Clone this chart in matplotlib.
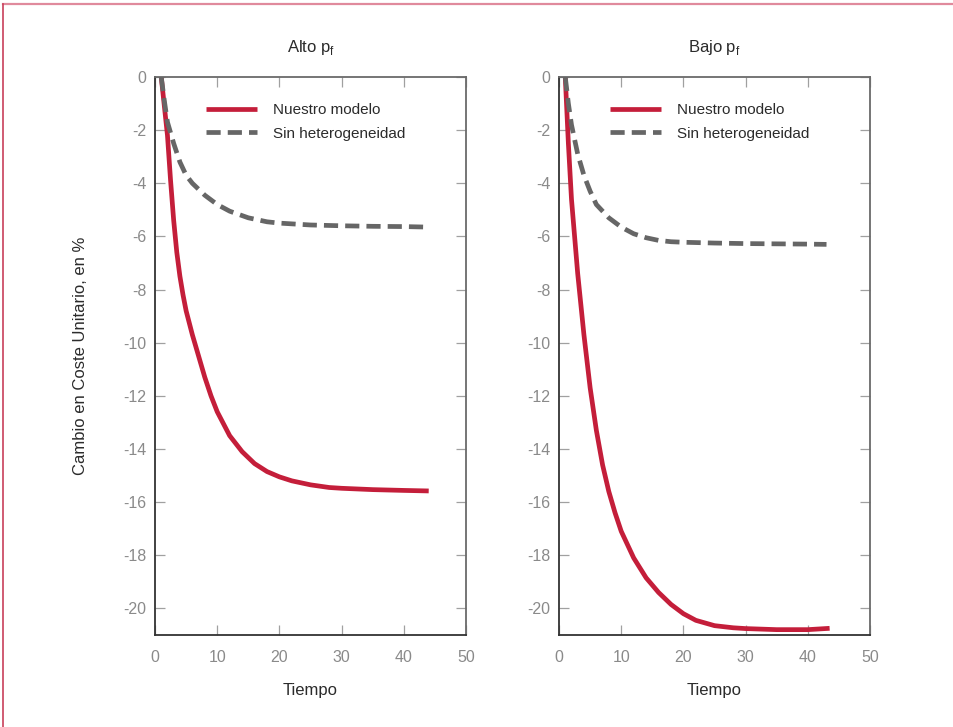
import matplotlib
matplotlib.use("Agg")
import matplotlib.pyplot as plt
from matplotlib.lines import Line2D

# -----------------------------
# Data
# -----------------------------
panel_titles = ["Alto p$_{\\mathrm{f}}$", "Bajo p$_{\\mathrm{f}}$"]
series_names = ["Nuestro modelo", "Sin heterogeneidad"]

alto_model_t = [1, 1.5, 2, 2.5, 3, 3.5, 4, 4.5, 5, 6, 7, 8, 9, 10, 12, 14, 16, 18, 20, 22, 25, 28,
                30, 35, 40, 44]
alto_model_y = [0, -1.1, -2.2, -3.9, -5.4, -6.6, -7.5, -8.2, -8.8, -9.7, -10.5, -11.3, -12.0,
                -12.6, -13.5, -14.1, -14.55, -14.85, -15.05, -15.2, -15.35, -15.45, -15.48,
                -15.53, -15.56, -15.58]
alto_homog_t = [1, 1.5, 2, 3, 4, 5, 6, 8, 10, 12, 15, 18, 20, 25, 30, 35, 40, 44]
alto_homog_y = [0, -0.9, -1.7, -2.5, -3.2, -3.7, -4.0, -4.45, -4.8, -5.05, -5.3, -5.45, -5.5,
                -5.57, -5.6, -5.62, -5.63, -5.65]

bajo_model_t = [1, 1.5, 2, 3, 4, 5, 6, 7, 8, 9, 10, 12, 14, 16, 18, 20, 22, 25, 28, 30, 35, 40,
                43.5]
bajo_model_y = [0, -2.5, -4.6, -7.4, -9.7, -11.7, -13.3, -14.6, -15.6, -16.4, -17.1, -18.1,
                -18.85, -19.4, -19.85, -20.2, -20.45, -20.65, -20.73, -20.76, -20.8, -20.8,
                -20.75]
bajo_homog_t = [1, 1.5, 2, 3, 4, 5, 6, 8, 10, 12, 14, 16, 18, 20, 25, 30, 35, 40, 43]
bajo_homog_y = [0, -1.0, -1.8, -2.9, -3.7, -4.3, -4.8, -5.3, -5.65, -5.9, -6.05, -6.15, -6.2,
                -6.22, -6.25, -6.27, -6.28, -6.29, -6.3]

x_ticks = [0, 10, 20, 30, 40, 50]
y_ticks = [0, -2, -4, -6, -8, -10, -12, -14, -16, -18, -20]

# -----------------------------
# Style
# -----------------------------
plt.rcParams['font.family'] = ['Liberation Sans', 'DejaVu Sans']
plt.rcParams['mathtext.fontset'] = 'custom'
plt.rcParams['mathtext.rm'] = 'Liberation Sans'
plt.rcParams['axes.unicode_minus'] = False

RED = "#c41e3a"
GRAY = "#666666"
TEXT = "#2b2b2b"
TICKLBL = "#8a8a8a"

fig = plt.figure(figsize=(9.54, 7.27), dpi=100)
ax_left = fig.add_axes([0.1625, 0.1266, 0.326, 0.7675])
ax_right = fig.add_axes([0.586, 0.1266, 0.326, 0.7675])

panels = [
    (ax_left, alto_model_t, alto_model_y, alto_homog_t, alto_homog_y),
    (ax_right, bajo_model_t, bajo_model_y, bajo_homog_t, bajo_homog_y),
]

for i, (ax, mt, my, ht, hy) in enumerate(panels):
    ax.plot(mt, my, color=RED, lw=3.4, solid_capstyle='butt', label=series_names[0], zorder=2)
    ax.plot(ht, hy, color=GRAY, lw=3.4, dashes=(3, 1.5), label=series_names[1], zorder=3)

    ax.set_xlim(0, 50)
    ax.set_ylim(-21, 0)
    ax.set_xticks(x_ticks)
    ax.set_yticks(y_ticks)
    ax.set_xticklabels([str(t) for t in x_ticks])
    ax.set_yticklabels([str(t) for t in y_ticks])
    ax.tick_params(direction='in', length=7.5, width=0.9, color="#a0a0a0",
                   labelsize=11.5, labelcolor=TICKLBL, top=True, right=True)
    ax.tick_params(axis='x', pad=11)
    ax.tick_params(axis='y', pad=6)

    for side in ['left', 'bottom']:
        ax.spines[side].set_color("#333333")
        ax.spines[side].set_linewidth(1.3)
    for side in ['top', 'right']:
        ax.spines[side].set_color("#6a6a6a")
        ax.spines[side].set_linewidth(1.3)

    ax.set_title(panel_titles[i], fontsize=12, color=TEXT, pad=18)
    ax.set_xlabel("Tiempo", fontsize=12, color=TEXT, labelpad=13)

    leg = ax.legend(loc='upper left', bbox_to_anchor=(0.13, 0.972), frameon=False,
                    fontsize=11, handlelength=3.3, handletextpad=1.1,
                    labelspacing=0.62, borderaxespad=0.3)
    for txt in leg.get_texts():
        txt.set_color(TEXT)

ax_left.set_ylabel("Cambio en Coste Unitario, en %", fontsize=12, color=TEXT)
ax_left.yaxis.set_label_coords(-0.215, 0.5)

# outer frame lines (pink border at top and left)
fig.add_artist(Line2D([3 / 954, 1], [1 - 4 / 727, 1 - 4 / 727], transform=fig.transFigure,
                      color="#e08a9c", lw=1.6))
fig.add_artist(Line2D([3 / 954, 3 / 954], [0, 1 - 4 / 727], transform=fig.transFigure,
                      color="#c8405a", lw=1.2))

fig.savefig("out.png", dpi=100)
plt.close(fig)
print("Saved out.png")
